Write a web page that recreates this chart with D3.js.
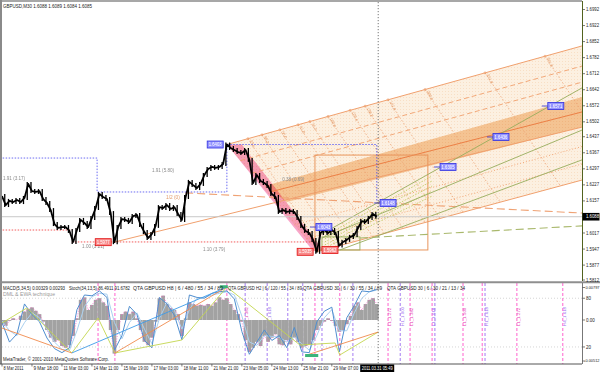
<!DOCTYPE html>
<html lang="en">
<head>
<meta charset="utf-8">
<title>GBPUSD,M30</title>
<script src="https://cdnjs.cloudflare.com/ajax/libs/d3/7.8.5/d3.min.js"></script>
<style>
  body { margin: 0; background: #fff; }
  text { font-family: "Liberation Sans", Arial, sans-serif; }
</style>
</head>
<body>
<script>
var w = 600, h = 372;

// closes sampled every 8 bars of M30, from 8 Mar 2011
var closes = [1.6178,1.6139,1.6157,1.6152,1.6161,1.6152,1.6170,1.6231,1.6200,1.6196,
  1.6200,1.6165,1.6148,1.6117,1.6056,1.6039,1.6043,1.6043,1.6026,1.5978,
  1.6030,1.6074,1.6061,1.6043,1.6083,1.6126,1.6187,1.6174,1.6165,1.6104,
  1.5977,1.6043,1.6078,1.6074,1.6065,1.6091,1.6096,1.6052,1.6021,1.5995,
  1.6013,1.6048,1.6130,1.6126,1.6139,1.6122,1.6130,1.6100,1.6074,1.6174,
  1.6240,1.6226,1.6213,1.6231,1.6270,1.6296,1.6305,1.6301,1.6305,1.6318,
  1.6403,1.6388,1.6379,1.6370,1.6366,1.6379,1.6336,1.6235,1.6270,1.6244,
  1.6235,1.6222,1.6187,1.6174,1.6109,1.6117,1.6109,1.6113,1.6109,1.6083,
  1.6048,1.6026,1.6017,1.5987,1.5935,1.6017,1.6030,1.6017,1.6030,1.6017,
  1.5962,1.5978,1.5987,1.6000,1.6008,1.6039,1.6069,1.6065,1.6083,1.6100,
  1.6088];
var barStep = 8;

// MACD histogram (x 1e-4), same sampling as closes
var hist = [-5,-7,-1,2,0,5,10,13,15,11,
  7,-2,-12,-21,-26,-24,-31,-33,-30,-19,
  2,24,27,12,18,24,26,21,17,-12,
  -40,-12,7,10,7,10,2,-12,-26,-30,
  -21,-2,26,29,19,14,12,7,-19,2,
  21,19,17,18,17,19,17,21,27,24,
  26,19,12,7,-2,-24,-38,-33,-26,-31,
  -19,-26,-21,-17,-29,-30,-24,-29,-21,-26,
  -33,-31,-29,-24,-12,-7,-2,2,-1,-7,
  -14,-12,-5,5,17,21,12,19,24,26,
  19];

// stochastic, sampled every 16 bars
var stochMain = [50,26,36,73,60,51,31,18,13,19,66,84,83,89,81,16,34,70,60,28,
  19,81,73,59,29,84,81,80,86,88,89,79,39,11,26,41,28,34,19,44,
  14,13,51,64,69,14,56,71,89,88,91];
var stochSig = [52,40,34,50,62,56,42,26,17,16,40,70,82,86,85,50,30,50,62,42,
  24,55,75,65,42,66,80,81,84,86,88,84,58,26,22,34,33,32,26,32,
  24,16,34,56,66,40,40,62,80,88,90];
var stochStep = 16;

var priceTicks = [1.6992,1.6922,1.6852,1.6782,1.6712,1.6642,1.6572,1.6502,1.6437,
  1.6367,1.6297,1.6227,1.6157,1.6017,1.5947,1.5877,1.5812];
var timeLabels = ["8 Mar 2011","9 Mar 18:00","11 Mar 03:00","14 Mar 11:00","15 Mar 19:00",
  "17 Mar 03:00","18 Mar 11:00","21 Mar 21:00","23 Mar 05:00","24 Mar 13:00",
  "25 Mar 21:00","29 Mar 07:00"];
var timeStep = 64;
var nowBar = 803, nowLabel = "2011.03.31 05:49";
var bid = 1.6088;

// drawn objects, [bar, price]
var chanTop = [[480,1.6403],[1238,1.6833]];
var chanBot = [[672,1.5935],[1238,1.6248]];
var fibLevels = [0.15,0.27,0.75,0.88];
var fibDash = ["5,3","5,3","1,2","1,2"];
var bandPoly = [[561,1.6222],[1238,1.6610],[1238,1.6479],[608,1.6152]];
var pinkPoly = [[480,1.6403],[512,1.6403],[687,1.5938],[664,1.5938]];
var orangeLines = [[[241,1.5978],[1238,1.6479]],[[572,1.6196],[1238,1.6545]]];
var halfLine = [[391,1.6192],[1238,1.6104]];
var orangeBox = [[668,1.6357],[909,1.5943]];
var crossBars = [525,555,593,632,657,696,743,775,824,903,1031,1159];
var crossText = ["23.6","38.2","50.0","61.8","76.4","100.0","123.6","138.2","161.8","200.0","261.8","361.8"];
var oliveLines = [[[683,1.6013],[1238,1.6650]],[[683,1.5995],[1238,1.6466]],[[721,1.5943],[1238,1.6336]]];
var oliveDash = [[764,1.5995],[1238,1.6048]];
var oliveBox = [[683,1.6000],[764,1.5943]];
var innerStart = [1.6004,1.5991,1.5978,1.5965,1.5952];
var innerEnd = [1.6266,1.6244,1.6222,1.6200,1.6178];
var blueZig = [[-5,1.6344],[203,1.6344],[203,1.6196],[480,1.6196],[480,1.6403],[800,1.6403],[800,1.6152]];
var redDots = [[[-5,1.6030],[149,1.6030]],[[149,1.5978],[668,1.5978]]];
var blueMarks = [[807,1.6148],[935,1.6305],[1048,1.6436],[1165,1.6571],[670,1.6043]];
var topMark = [438,1.6403];
var redBars = [199,630,683];
var redPrices = [1.5977,1.5935,1.5943];
var redText = ["1.5977","1.5935","1.5962"];
var noteBars = [2,320,171,429,598];
var notePrices = [1.6257,1.6288,1.5960,1.5947,1.6253];
var noteText = ["1.91 (3.17)","1.91 (5.80)","1.00 (3.21)","1.10 (3.79)","0.38 (0.69)"];

// sub window objects, [bar, stoch]
var zigYG = [[0,49.5],[53,68],[149,12.6],[205,55.7],[241,12.6],[384,28.6],[480,93.8],[636,22.4],[711,24.9],[721,10.1],[803,38.4]];
var zigOrange = [[[0,43.3],[149,12.6]],[[241,12.6],[480,93.8]],[[651,10.1],[803,38.4]]];
var zigBlue = [[149,12.6],[480,93.8]];
var vBars = [205,241,480,519,566,610,642,668,683,721,749,824,850,871,918,924,984,1025,1031,1099,1197];
var vCols = ["p","p","p","v","v","v","v","p","v","p","v","p","v","p","p","v","p","p","v","p","p"];
var vLabelBars = [524,571,829,855,876,923,989,1036,1104,1202];
var vLabelText = ["H1_1.382","H1_1.618","L1_1.272","H1_1.000","L1_1.382","L1_1.618","L1_1.500","H1_1.618","L1_1.272","H4_1.618"];

var x = d3.scaleLinear().domain([0,1238]).range([2,582]);
var y = d3.scaleLinear().domain([1.5812,1.6992]).range([280,9.5]);
var yS = d3.scaleLinear().domain([0,100]).range([363.2,282]);
var yH = d3.scaleLinear().domain([-50,50]).range([362,278]);

var orange = "#f0a06e", olive = "#97ad5c";
var colP = "#ff4fc8", colV = "#9a6cf0";

var svg = d3.select("body").append("svg").attr("width", w).attr("height", h);
var defs = svg.append("defs");
defs.append("clipPath").attr("id","cMain").append("rect").attr("x",2).attr("y",2).attr("width",580).attr("height",279);
defs.append("clipPath").attr("id","cSub").append("rect").attr("x",2).attr("y",283).attr("width",580).attr("height",81);

var pline = d3.line().x(function(d){ return x(d[0]); }).y(function(d){ return y(d[1]); });
var sline = d3.line().x(function(d){ return x(d[0]); }).y(function(d){ return yS(d[1]); });

var chanPoly = [chanTop[0], chanTop[1], chanBot[1], chanBot[0]];
defs.append("clipPath").attr("id","cChan").append("path").attr("d", pline(chanPoly) + "Z");
var pat = defs.append("pattern").attr("id","dots").attr("width",3).attr("height",3).attr("patternUnits","userSpaceOnUse");
pat.append("rect").attr("width",3).attr("height",3).attr("fill","#fcf0e1");
pat.append("rect").attr("x",1).attr("y",1).attr("width",0.8).attr("height",0.8).attr("fill","#f6d6b6");

svg.append("rect").attr("width",w).attr("height",h).attr("fill","#fff");

var main = svg.append("g").attr("clip-path","url(#cMain)");

// channel fills
main.append("path").attr("d", pline(chanPoly) + "Z").attr("fill","url(#dots)");
main.append("path").attr("d", pline(pinkPoly) + "Z").attr("fill","#f8a6c9").style("mix-blend-mode","multiply");
main.append("path").attr("d", pline(bandPoly) + "Z").attr("fill","#f7cfa6").style("mix-blend-mode","multiply");

function lerp(a, b, t) { return [a[0] + (b[0]-a[0])*t, a[1] + (b[1]-a[1])*t]; }

// fibo lines inside the channel
fibLevels.forEach(function(f, i) {
  main.append("path")
    .attr("d", pline([lerp(chanTop[0], chanBot[0], f), lerp(chanTop[1], chanBot[1], f)]))
    .attr("stroke", orange).attr("stroke-width", 0.9).attr("fill","none")
    .attr("stroke-dasharray", fibDash[i]);
});

// time lines crossing the channel
var topAt = function(b) { return chanTop[0][1] + (chanTop[1][1]-chanTop[0][1])*(b-chanTop[0][0])/(chanTop[1][0]-chanTop[0][0]); };
var cross = main.append("g").attr("clip-path","url(#cChan)");
crossBars.forEach(function(b) {
  cross.append("path").attr("d", pline([[b, topAt(b)], [b+400, topAt(b)-0.1226]]))
    .attr("stroke", "#eda477").attr("stroke-width", 0.8).attr("stroke-dasharray","1.5,2").attr("fill","none");
});
main.selectAll(".ctxt").data(crossBars).enter().append("text")
  .attr("transform", function(b) { return "translate(" + (x(b)+1.5) + "," + (y(topAt(b))+2) + ") rotate(65)"; })
  .attr("font-size", 4).attr("fill", "#e39a68")
  .text(function(b, i) { return crossText[i]; });
main.selectAll(".cmark").data(crossBars).enter().append("circle")
  .attr("cx", function(b){ return x(b); }).attr("cy", function(b){ return y(topAt(b)); })
  .attr("r", 1).attr("fill","none").attr("stroke","#e8935e").attr("stroke-width",0.6);

// channel borders and orange lines
[chanTop, chanBot].concat(orangeLines).forEach(function(l, i) {
  main.append("path").attr("d", pline(l)).attr("fill","none")
    .attr("stroke", i == 3 ? "#ec7f45" : orange).attr("stroke-width", 1);
});
main.append("path").attr("d", pline(halfLine)).attr("fill","none")
  .attr("stroke", "#efa274").attr("stroke-width", 1.1).attr("stroke-dasharray","8,4");
main.append("rect")
  .attr("x", x(orangeBox[0][0])).attr("y", y(orangeBox[0][1]))
  .attr("width", x(orangeBox[1][0]) - x(orangeBox[0][0]))
  .attr("height", y(orangeBox[1][1]) - y(orangeBox[0][1]))
  .attr("fill","none").attr("stroke","#e8955c").attr("stroke-width",1);

// olive fan
innerStart.forEach(function(p, i) {
  main.append("path").attr("d", pline([[689, p], [918, innerEnd[i]]])).attr("fill","none")
    .attr("stroke", "#b9c957").attr("stroke-width", 0.8).attr("stroke-dasharray","1.5,1.5");
});
oliveLines.forEach(function(l) {
  main.append("path").attr("d", pline(l)).attr("fill","none").attr("stroke", olive).attr("stroke-width", 0.9);
});
main.append("path").attr("d", pline(oliveDash)).attr("fill","none")
  .attr("stroke", "#a9b86c").attr("stroke-width", 1.1).attr("stroke-dasharray","8,4");
main.append("rect")
  .attr("x", x(oliveBox[0][0])).attr("y", y(oliveBox[0][1]))
  .attr("width", x(oliveBox[1][0]) - x(oliveBox[0][0]))
  .attr("height", y(oliveBox[1][1]) - y(oliveBox[0][1]))
  .attr("fill","none").attr("stroke",olive).attr("stroke-width",0.9);

// zigzag boxes and levels
main.append("path").attr("d", pline(blueZig)).attr("fill","none")
  .attr("stroke","#5b5bf0").attr("stroke-width",0.9).attr("stroke-dasharray","1.5,1.5");
redDots.forEach(function(l) {
  main.append("path").attr("d", pline(l)).attr("fill","none")
    .attr("stroke","#f04848").attr("stroke-width",0.9).attr("stroke-dasharray","1.5,1.5");
});

// bid line
main.append("line").attr("x1",2).attr("x2",582).attr("y1",y(bid)).attr("y2",y(bid))
  .attr("stroke","#c8c8c8").attr("stroke-width",1);

// price: bars spanning each step, then the close line
var cl = closes.map(function(c, i) { return [i*barStep, c]; });
main.selectAll(".bar").data(cl.slice(1)).enter().append("line")
  .attr("x1", function(d){ return x(d[0]) - 1; }).attr("x2", function(d){ return x(d[0]) - 1; })
  .attr("y1", function(d, i){ return Math.min(y(d[1]), y(cl[i][1])) - 2; })
  .attr("y2", function(d, i){ return Math.max(y(d[1]), y(cl[i][1])) + 2; })
  .attr("stroke","#000").attr("stroke-width",1.3);
main.append("path").attr("d", pline(cl)).attr("fill","none")
  .attr("stroke","#000").attr("stroke-width",1.8).attr("stroke-linejoin","round");

// notes
noteBars.forEach(function(b, i) {
  main.append("text").attr("x", x(b)).attr("y", y(notePrices[i])).attr("dy","0.35em")
    .attr("font-size", 4.6).attr("fill","#8c8c8c").text(noteText[i]);
});
main.append("text").attr("x", x(350)).attr("y", y(1.6174)).attr("dy","0.35em")
  .attr("font-size", 4.8).attr("fill","#e39a68").text("1/2 (0)");

// price labels
function tag(g, bx, price, txt, fill, stroke, col) {
  g.append("rect").attr("x", x(bx)).attr("y", y(price)-3.5).attr("width",16).attr("height",7)
    .attr("fill", fill).attr("stroke", stroke).attr("stroke-width",0.8);
  g.append("text").attr("x", x(bx)+8).attr("y", y(price)).attr("dy","0.35em")
    .attr("text-anchor","middle").attr("font-size",4.6).attr("fill", col)
    .attr("textLength",13).attr("lengthAdjust","spacingAndGlyphs").text(txt);
}
blueMarks.forEach(function(m) {
  main.append("line").attr("x1", x(m[0])-6).attr("x2", x(m[0])).attr("y1", y(m[1])).attr("y2", y(m[1]))
    .attr("stroke","#2a2ad0").attr("stroke-width",0.8);
  tag(main, m[0], m[1], m[1].toFixed(4), "#9494ff", "#3030e0", "#fff");
});
tag(main, topMark[0], topMark[1], topMark[1].toFixed(4), "#9494ff", "#3030e0", "#fff");
redBars.forEach(function(b, i) {
  tag(main, b, redPrices[i], redText[i], "#f98a8a", "#e01010", "#fff");
});

// title
svg.append("text").attr("x",3).attr("y",7.5).attr("font-size",4.6).attr("fill","#222")
  .attr("textLength",89).attr("lengthAdjust","spacingAndGlyphs")
  .text("GBPUSD,M30  1.6088 1.6089 1.6084 1.6085");

// ---- sub window
var sub = svg.append("g").attr("clip-path","url(#cSub)");
vBars.forEach(function(b, i) {
  sub.append("line").attr("x1", x(b)).attr("x2", x(b)).attr("y1",283).attr("y2",364)
    .attr("stroke", vCols[i] == "p" ? colP : colV).attr("stroke-width",0.9).attr("stroke-dasharray","3,2");
});
vLabelBars.forEach(function(b, i) {
  sub.append("text").attr("transform","translate(" + (x(b)+1) + ",326) rotate(-90)")
    .attr("font-size",4.4).attr("fill", i % 2 ? colV : "#e23cb4").text(vLabelText[i]);
});

var hw = x(barStep) - x(0);
sub.selectAll(".hb").data(hist).enter().append("rect")
  .attr("x", function(d, i){ return x(i*barStep) - hw/2; })
  .attr("width", hw)
  .attr("y", function(d){ return Math.min(yH(d), yH(0)); })
  .attr("height", function(d){ return Math.abs(yH(d) - yH(0)); })
  .attr("fill","#a2a2a2");
sub.append("path")
  .attr("d", d3.line().x(function(d, i){ return x(i*barStep); }).y(function(d){ return yH(d); })(hist))
  .attr("fill","none").attr("stroke","#ff4fc8").attr("stroke-width",0.7).attr("stroke-dasharray","1,1.5");

var stLine = d3.line().x(function(d, i){ return x(i*stochStep); }).y(function(d){ return yS(d); });
sub.append("path").attr("d", stLine(stochSig)).attr("fill","none").attr("stroke","#a9d0f0").attr("stroke-width",1);
sub.append("path").attr("d", stLine(stochMain)).attr("fill","none").attr("stroke","#4f8ed0").attr("stroke-width",1);

sub.append("path").attr("d", sline(zigYG)).attr("fill","none").attr("stroke","#c3d64e").attr("stroke-width",0.9);
zigOrange.forEach(function(l) {
  sub.append("path").attr("d", sline(l)).attr("fill","none").attr("stroke","#f08a4c").attr("stroke-width",0.9);
});
sub.append("path").attr("d", sline(zigBlue)).attr("fill","none").attr("stroke","#3d9be9").attr("stroke-width",0.9);
sub.append("rect").attr("x", x(465)).attr("y", yS(96)).attr("width", x(482)-x(465)).attr("height", yS(92.5)-yS(96)).attr("fill","#3cb37a");
sub.append("rect").attr("x", x(647)).attr("y", yS(11.3)).attr("width", x(675)-x(647)).attr("height", yS(7.6)-yS(11.3)).attr("fill","#3cb37a");

// sub window texts
var hdr = [["MACD(5,34,5) 0.00329 0.00293",3,62],["Stoch(34,13,5) 86.4911 91.6782",69,61],
  ["QTA GBPUSD H8 | 6 / 480 / 55 / 34 / 89",133,90],["QTA GBPUSD H2 | 6 / 120 / 55 / 34 / 89",228,74],
  ["QTA GBPUSD 30 | 6 / 30 / 55 / 34 / 89",303,79],["QTA GBPUSD 30 | 6 / 30 / 21 / 13 / 34",387,78]];
hdr.forEach(function(t) {
  svg.append("text").attr("x",t[1]).attr("y",289.8).attr("font-size",4.6).attr("fill","#222")
    .attr("textLength",t[2]).attr("lengthAdjust","spacingAndGlyphs").text(t[0]);
});
svg.append("text").attr("x",3).attr("y",296.2).attr("font-size",4.6).attr("fill","#9a9a9a")
  .attr("textLength",52).attr("lengthAdjust","spacingAndGlyphs").text("DML & EWA  technique");
svg.append("text").attr("x",3).attr("y",360.6).attr("font-size",4.6).attr("fill","#222")
  .attr("textLength",106).attr("lengthAdjust","spacingAndGlyphs").text("MetaTrader, \u00a9 2001-2010 MetaQuotes Software Corp.");

// ---- frame, separators, time line
svg.append("line").attr("x1",1).attr("x2",1).attr("y1",0).attr("y2",364).attr("stroke","#8a8a8a").attr("stroke-width",2);
svg.append("line").attr("x1",0).attr("x2",582).attr("y1",1).attr("y2",1).attr("stroke","#8a8a8a").attr("stroke-width",1.5);
svg.append("line").attr("x1",0).attr("x2",600).attr("y1",282.2).attr("y2",282.2).attr("stroke","#8f8f8f").attr("stroke-width",2);
svg.append("line").attr("x1",0).attr("x2",582).attr("y1",364).attr("y2",364).attr("stroke","#555").attr("stroke-width",1);
svg.append("line").attr("x1",582.5).attr("x2",582.5).attr("y1",1).attr("y2",281).attr("stroke","#53631f").attr("stroke-width",1);
svg.append("line").attr("x1",582.5).attr("x2",582.5).attr("y1",283).attr("y2",364).attr("stroke","#777").attr("stroke-width",1);
svg.append("line").attr("x1",x(nowBar)).attr("x2",x(nowBar)).attr("y1",2).attr("y2",364)
  .attr("stroke","#555").attr("stroke-width",0.8).attr("stroke-dasharray","1.2,1.8");

// price axis
var pa = svg.append("g");
priceTicks.forEach(function(p) {
  pa.append("line").attr("x1",582.5).attr("x2",585).attr("y1",y(p)).attr("y2",y(p)).attr("stroke","#444").attr("stroke-width",0.7);
  pa.append("text").attr("x",586).attr("y",y(p)).attr("dy","0.35em").attr("font-size",4.5).attr("fill","#222")
    .attr("textLength",13).attr("lengthAdjust","spacingAndGlyphs").text(p.toFixed(4));
});
pa.append("rect").attr("x",582.5).attr("y",y(bid)-3.8).attr("width",17).attr("height",7.6).attr("fill","#000");
pa.append("text").attr("x",586).attr("y",y(bid)).attr("dy","0.35em").attr("font-size",4.5).attr("fill","#fff")
  .attr("textLength",13).attr("lengthAdjust","spacingAndGlyphs").text(bid.toFixed(4));

// sub axis
var sa = [["0.00797",287.5],["80",yS(80)],["0.00",yH(0)],["20",yS(20)],["-0.00512",361]];
sa.forEach(function(t) {
  svg.append("line").attr("x1",582.5).attr("x2",585).attr("y1",t[1]).attr("y2",t[1]).attr("stroke","#444").attr("stroke-width",0.7);
  if (t[0].length > 4) {
    svg.append("text").attr("x",599.5).attr("y",t[1]).attr("dy","0.35em").attr("text-anchor","end")
      .attr("font-size",3.9).attr("fill","#222").text(t[0]);
  } else {
    svg.append("text").attr("x",586).attr("y",t[1]).attr("dy","0.35em").attr("font-size",4.5).attr("fill","#222").text(t[0]);
  }
});
[80,20].forEach(function(v) {
  sub.append("line").attr("x1",2).attr("x2",582).attr("y1",yS(v)).attr("y2",yS(v))
    .attr("stroke","#bbb").attr("stroke-width",0.6).attr("stroke-dasharray","1,2");
});

// time axis
timeLabels.forEach(function(t, i) {
  var tx = x(i*timeStep);
  svg.append("line").attr("x1",tx).attr("x2",tx).attr("y1",364).attr("y2",366.5).attr("stroke","#444").attr("stroke-width",0.7);
  svg.append("text").attr("x",tx+1.5).attr("y",370.3).attr("font-size",4.8).attr("fill","#222")
    .attr("textLength", i == 0 ? 20 : 25).attr("lengthAdjust","spacingAndGlyphs").text(t);
});
svg.append("rect").attr("x",x(nowBar)-18).attr("y",364.5).attr("width",34).attr("height",7.5).attr("fill","#000");
svg.append("text").attr("x",x(nowBar)-1).attr("y",370.3).attr("text-anchor","middle").attr("font-size",4.8).attr("fill","#fff")
  .attr("textLength",31).attr("lengthAdjust","spacingAndGlyphs").text(nowLabel);
</script>
</body>
</html>
